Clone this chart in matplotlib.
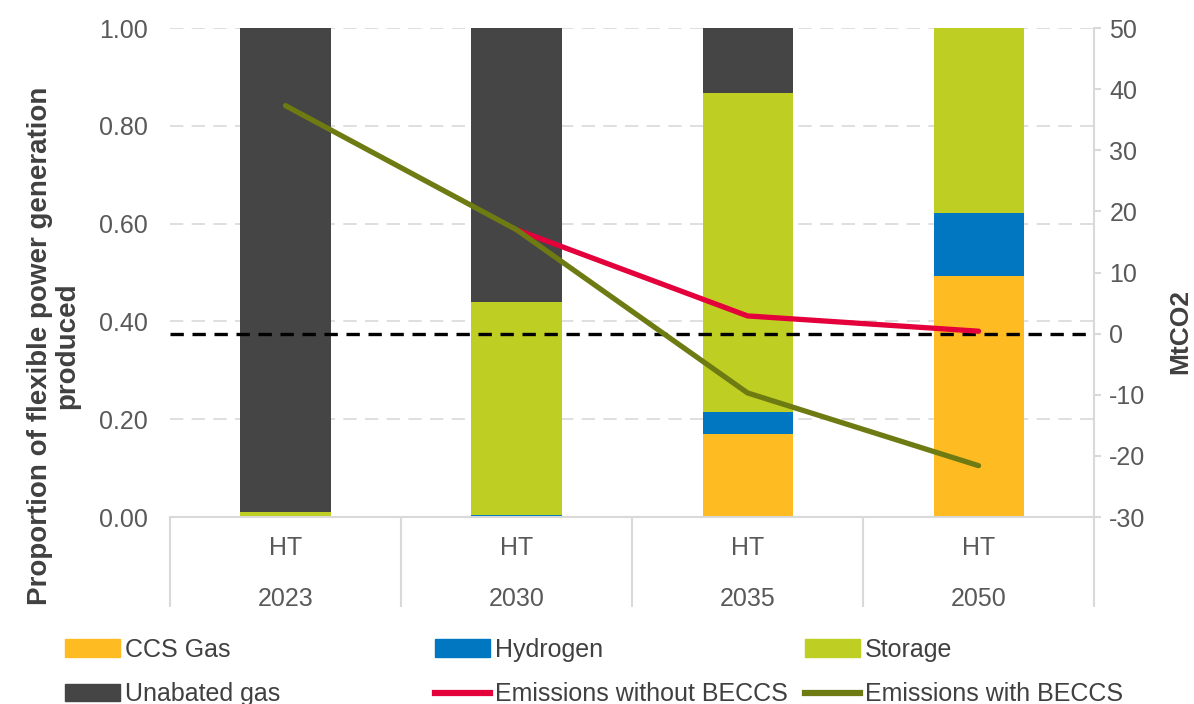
import numpy as np
import matplotlib.pyplot as plt
from matplotlib.patches import Patch
from matplotlib.lines import Line2D

plt.rcParams['font.family'] = ['Liberation Sans', 'DejaVu Sans']
plt.rcParams['axes.unicode_minus'] = False

# Data
years = ['2023', '2030', '2035', '2050']
scenario = ['HT', 'HT', 'HT', 'HT']
ccs_gas = [0.0, 0.0, 0.17, 0.493]
hydrogen = [0.0, 0.005, 0.045, 0.129]
storage = [0.01, 0.435, 0.652, 0.378]
unabated = [0.99, 0.56, 0.133, 0.0]
emis_without = [np.nan, 17.0, 2.9, 0.4]
emis_with = [37.3, 17.0, -9.7, -21.6]

c_ccs = '#FFBC22'
c_h2 = '#0077C0'
c_sto = '#BFCE22'
c_unab = '#454545'
c_red = '#E4003B'
c_green = '#6E7B12'
txt = '#595959'
dark = '#404040'
grid_c = '#D9D9D9'
fs = 18

fig = plt.figure(figsize=(11.94, 7.04), dpi=100)
ax = fig.add_axes([0.1424, 0.2656, 0.9163 - 0.1424, 0.9602 - 0.2656])

x = np.arange(len(years)) + 0.5
w = 0.39
bottom = np.zeros(len(years))
for vals, col in [(ccs_gas, c_ccs), (hydrogen, c_h2), (storage, c_sto), (unabated, c_unab)]:
    ax.bar(x, vals, w, bottom=bottom, color=col, zorder=2)
    bottom += np.array(vals)

ax.set_xlim(0, len(years))
ax.set_ylim(0, 1)
ax.set_yticks(np.arange(0, 1.01, 0.2))
ax.set_yticklabels([f'{v:.2f}' for v in np.arange(0, 1.01, 0.2)])
ax.yaxis.grid(True, color=grid_c, linestyle=(0, (8, 5)), linewidth=1.2, zorder=0)
ax.set_axisbelow(True)
for s in ['left', 'top', 'right']:
    ax.spines[s].set_visible(False)
ax.spines['bottom'].set_color(grid_c)
ax.spines['bottom'].set_linewidth(1.5)
ax.tick_params(axis='y', length=0, pad=16, labelsize=fs, labelcolor=txt)

ax.set_xticks(x)
ax.set_xticklabels([f'{s}\n{y}' for s, y in zip(scenario, years)])
for lbl in ax.get_xticklabels():
    lbl.set_linespacing(2.39)
ax.tick_params(axis='x', which='major', length=0, pad=14, labelsize=fs, labelcolor=txt)
ax.set_xticks(np.arange(len(years) + 1), minor=True)
ax.tick_params(axis='x', which='minor', length=65, width=1.5, color=grid_c)

ax.set_ylabel('Proportion of flexible power generation\nproduced', fontsize=20,
              fontweight='bold', color=dark, linespacing=1.05)
ax.yaxis.set_label_coords(-0.097, 0.35)

ax2 = ax.twinx()
ax2.set_ylim(-30, 50)
ax2.set_yticks(np.arange(-30, 51, 10))
ax2.axhline(0, color='black', linestyle=(0, (4, 2.6)), linewidth=2.4, zorder=2)
ax2.plot(x, emis_without, color=c_red, linewidth=3.8, solid_capstyle='round', zorder=3)
ax2.plot(x, emis_with, color=c_green, linewidth=3.8, solid_capstyle='round', zorder=4)
for s in ['left', 'top', 'bottom']:
    ax2.spines[s].set_visible(False)
ax2.spines['right'].set_color(grid_c)
ax2.spines['right'].set_linewidth(1.5)
ax2.tick_params(axis='y', length=5, width=1.5, color=grid_c, pad=6,
                labelsize=fs, labelcolor=txt)
ax2.set_ylabel('MtCO2', fontsize=19, fontweight='bold', color=dark)
ax2.yaxis.set_label_coords(1.08, 0.38)

# Legend, three columns
cols = [
    [Patch(color=c_ccs, label='CCS Gas'), Patch(color=c_unab, label='Unabated gas')],
    [Patch(color=c_h2, label='Hydrogen'), Line2D([], [], color=c_red, lw=4.5, label='Emissions without BECCS')],
    [Patch(color=c_sto, label='Storage'), Line2D([], [], color=c_green, lw=4.5, label='Emissions with BECCS')],
]
for i, handles in enumerate(cols):
    fig.legend(handles=handles, loc='upper left', bbox_to_anchor=(0.0544 + i * 0.31, 0.094),
               frameon=False, fontsize=fs, handlelength=2.2, handleheight=0.68,
               handletextpad=0.2, labelspacing=0.82, borderaxespad=0, borderpad=0,
               labelcolor=dark)

fig.savefig('out.png', dpi=100)
